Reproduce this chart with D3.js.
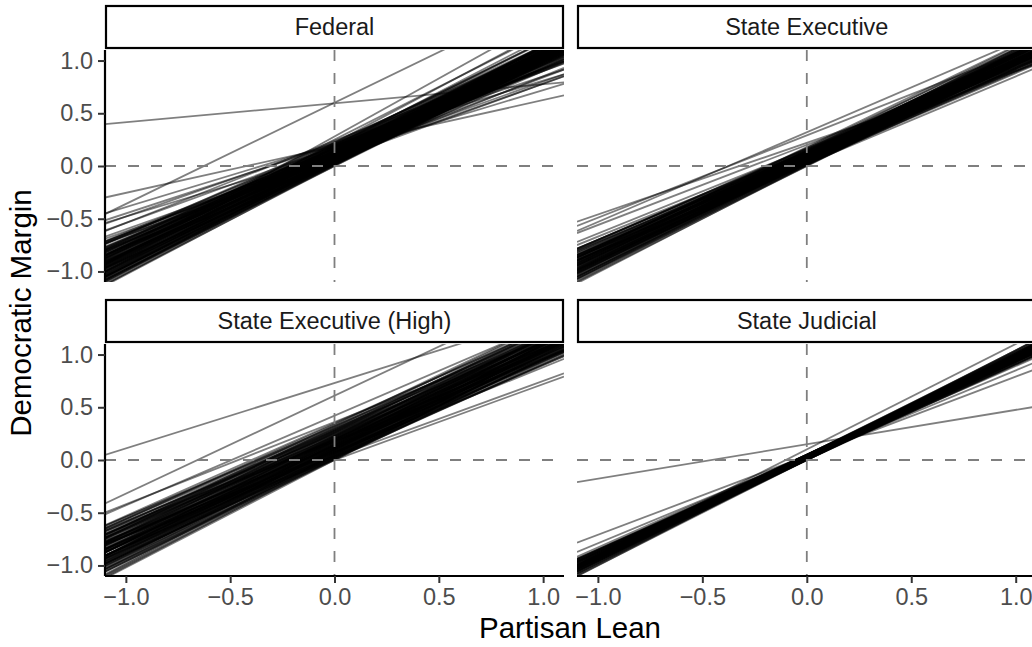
<!DOCTYPE html>
<html>
<head>
<meta charset="utf-8">
<script src="https://cdn.jsdelivr.net/npm/d3@7"></script>
<style>
  html, body { margin: 0; padding: 0; background: #fff; }
  svg { display: block; font-family: "Liberation Sans", Arial, Helvetica, sans-serif; }
</style>
</head>
<body>
<svg id="chart" width="1032" height="647"></svg>
<script>
// Facet titles
const facets = ["Federal", "State Executive", "State Executive (High)", "State Judicial"];

// Axis ticks (shared by every panel)
const xTicks = [-1.0, -0.5, 0.0, 0.5, 1.0];
const yTicks = [-1.0, -0.5, 0.0, 0.5, 1.0];
const xLimits = [-1.1, 1.1];
const yLimits = [-1.1, 1.1];

// Fitted lines per facet: intercept and slope (Democratic Margin = a + b * Partisan Lean)
const federalIntercept = [0.00, 0.02, 0.03, 0.05, 0.04, 0.06, 0.08, 0.07, 0.10, 0.09, 0.11, 0.12, 0.13, 0.10, 0.14, 0.15, 0.16, 0.18, 0.17, 0.20,
  0.01, 0.03, 0.06, 0.08, 0.05, 0.12, 0.14, 0.09, 0.02, 0.07, 0.11, 0.13, 0.16, 0.04, 0.19, 0.06, 0.10, 0.15, 0.08, 0.12,
  0.03, 0.05, 0.09, 0.14, 0.17, 0.01, 0.07, 0.11, 0.13, 0.04, 0.06, 0.08,
  0.00, 0.01, 0.02, 0.03, 0.04, 0.05, 0.06, 0.07, 0.08, 0.09, 0.10, 0.11, 0.12, 0.13, 0.14, 0.15, 0.16, 0.17, 0.18, 0.19,
  0.20, 0.21, 0.02, 0.03, 0.05, 0.06, 0.07, 0.08, 0.09, 0.10, 0.11, 0.12, 0.13, 0.14, 0.15, 0.16, 0.17, 0.18, 0.04, 0.01,
  0.06, 0.09, 0.11, 0.13, 0.07, 0.03, 0.05, 0.10, 0.12, 0.14,
  0.20, 0.22, 0.19, 0.23, 0.21, 0.18,
  0.22, 0.20, 0.18, 0.24, 0.25, 0.28, 0.22, 0.12, 0.10, 0.185, 0.595, 0.60, 0.21];
const federalSlope = [1.02, 1.00, 0.98, 1.03, 0.95, 0.97, 1.00, 0.92, 0.95, 0.88, 0.98, 0.90, 0.85, 0.82, 0.93, 0.88, 0.80, 0.86, 0.95, 0.90,
  0.96, 1.05, 0.90, 0.85, 0.80, 1.02, 0.78, 0.75, 0.90, 0.99, 0.87, 0.96, 0.91, 0.86, 0.82, 1.01, 0.91, 0.99, 0.94, 0.83,
  0.93, 0.88, 1.04, 0.86, 0.88, 1.00, 0.96, 0.93, 0.89, 0.99, 0.72, 0.70,
  0.98, 1.04, 0.95, 0.99, 1.02, 0.96, 0.93, 1.03, 0.97, 0.91, 1.00, 0.95, 0.88, 0.99, 0.90, 0.94, 0.86, 0.92, 0.95, 0.88,
  0.93, 0.86, 1.02, 0.91, 0.99, 0.87, 0.94, 1.02, 0.97, 0.87, 1.01, 0.94, 0.91, 0.97, 0.84, 0.96, 0.83, 0.91, 0.92, 0.98,
  1.05, 0.82, 0.80, 0.77, 0.88, 0.96, 1.05, 1.03, 0.97, 1.00,
  0.98, 0.92, 1.02, 0.88, 0.96, 1.00,
  0.70, 0.65, 0.72, 0.78, 1.00, 1.10, 1.05, 0.60, 0.70, 0.44, 0.18, 0.96, 0.60];

const stateExecIntercept = [0.00, 0.02, 0.03, 0.05, 0.04, 0.06, 0.08, 0.07, 0.09, 0.10, 0.11, 0.12, 0.13, 0.10, 0.14, 0.15, 0.16, 0.17, 0.02, 0.05,
  0.01, 0.03, 0.06, 0.08, 0.12, 0.14, 0.09, 0.04, 0.07, 0.11, 0.13, 0.16, 0.18, 0.06, 0.10, 0.15, 0.08, 0.12, 0.03, 0.05,
  0.09, 0.14, 0.01, 0.07, 0.11, 0.04, 0.02, 0.13,
  0.00, 0.01, 0.02, 0.03, 0.04, 0.05, 0.06, 0.07, 0.08, 0.09, 0.10, 0.11, 0.12, 0.13, 0.14, 0.15, 0.16, 0.17, 0.02, 0.03,
  0.04, 0.05, 0.06, 0.07, 0.08, 0.09, 0.10, 0.11, 0.12, 0.13, 0.01, 0.05, 0.08, 0.10, 0.06, 0.03, 0.14, 0.09, 0.04, 0.11,
  0.32, 0.29, 0.22, 0.20];
const stateExecSlope = [1.00, 0.98, 0.95, 1.00, 0.92, 0.96, 0.99, 0.90, 0.94, 0.88, 0.97, 0.92, 0.86, 0.84, 0.90, 0.85, 0.80, 0.88, 0.83, 0.86,
  0.96, 1.02, 0.89, 0.84, 0.99, 0.95, 0.81, 0.88, 0.97, 0.86, 0.93, 0.91, 0.96, 1.01, 0.91, 0.98, 0.93, 0.82, 0.90, 0.94,
  1.00, 0.87, 0.99, 0.85, 0.93, 0.97, 0.91, 0.80,
  0.97, 1.02, 0.94, 0.98, 1.01, 0.90, 0.93, 1.00, 0.88, 0.97, 0.95, 0.90, 0.95, 0.89, 0.84, 0.92, 0.86, 0.94, 0.88, 0.85,
  0.95, 0.97, 0.84, 0.92, 0.96, 0.87, 0.99, 0.83, 0.88, 0.97, 0.91, 1.02, 0.91, 0.86, 0.99, 0.93, 0.92, 0.90, 0.85, 1.00,
  0.85, 0.78, 0.68, 0.76];

const stateExecHighIntercept = [0.00, 0.02, 0.04, 0.05, 0.07, 0.08, 0.10, 0.11, 0.12, 0.14, 0.15, 0.16, 0.18, 0.19, 0.20, 0.22, 0.23, 0.25, 0.26, 0.28,
  0.30, 0.03, 0.06, 0.09, 0.13, 0.17, 0.01, 0.06, 0.10, 0.13, 0.17, 0.21, 0.24, 0.27, 0.08, 0.04, 0.15, 0.19, 0.12, 0.02,
  0.09, 0.22, 0.32, 0.18, 0.05, 0.11, 0.14, 0.20, 0.26, 0.07,
  0.00, 0.01, 0.03, 0.04, 0.06, 0.07, 0.08, 0.09, 0.10, 0.11, 0.12, 0.13, 0.14, 0.15, 0.16, 0.17, 0.18, 0.19, 0.20, 0.21,
  0.22, 0.23, 0.24, 0.25, 0.27, 0.28, 0.29, 0.02, 0.05, 0.08, 0.10, 0.12, 0.14, 0.16, 0.18, 0.20, 0.06, 0.03, 0.11, 0.15,
  0.23, 0.26, 0.09, 0.13, 0.17, 0.04, 0.19, 0.21, 0.07, 0.01,
  0.30, 0.32, 0.34, 0.31, 0.35, 0.28, 0.33, 0.29,
  0.00, 0.03, 0.36, 0.42, 0.73, 0.61];
const stateExecHighSlope = [1.02, 0.98, 1.00, 0.94, 0.97, 0.90, 0.95, 0.88, 1.00, 0.92, 0.86, 0.97, 0.90, 0.84, 0.95, 0.88, 0.93, 0.86, 0.98, 0.90,
  0.84, 0.92, 0.88, 0.85, 0.82, 0.80, 0.95, 1.04, 0.99, 0.96, 0.93, 0.90, 0.82, 0.95, 0.80, 0.86, 1.01, 0.97, 0.90, 0.89,
  0.93, 1.00, 0.88, 0.78, 0.99, 0.92, 0.85, 0.86, 0.90, 0.83,
  0.96, 1.01, 0.97, 0.93, 0.98, 0.91, 1.01, 0.96, 0.89, 0.97, 0.94, 0.88, 0.98, 0.91, 0.88, 0.95, 0.85, 0.92, 0.89, 0.96,
  0.84, 0.88, 0.93, 0.90, 0.86, 0.97, 0.88, 1.03, 0.90, 0.87, 0.93, 0.84, 0.95, 0.92, 0.99, 0.82, 0.94, 0.88, 1.02, 0.97,
  0.97, 0.84, 0.99, 0.91, 0.87, 1.03, 1.00, 0.93, 0.86, 0.92,
  0.92, 0.86, 0.90, 0.96, 0.88, 0.84, 0.95, 0.93,
  0.72, 0.72, 0.78, 0.85, 0.62, 0.93];

const stateJudIntercept = [0.00, 0.01, 0.02, 0.03, 0.04, 0.05, 0.01, 0.02, 0.03, 0.04, 0.05, 0.00, 0.01, 0.02, 0.03, 0.04, 0.05, 0.02, 0.03, 0.01,
  0.04, 0.00, 0.02, 0.03, 0.05, 0.01, 0.04, 0.03, 0.02, 0.00, 0.05, 0.01, 0.03, 0.04, 0.02,
  0.00, 0.01, 0.02, 0.03, 0.04, 0.05, 0.01, 0.02, 0.03, 0.04, 0.05, 0.00, 0.01, 0.02, 0.03, 0.04, 0.05, 0.02, 0.03, 0.01,
  0.04, 0.00, 0.02, 0.03, 0.05,
  0.04, 0.03, 0.149, 0.10];
const stateJudSlope = [0.98, 0.92, 0.96, 0.90, 0.94, 0.88, 1.00, 0.93, 0.97, 0.91, 0.95, 0.94, 0.89, 0.99, 0.93, 0.97, 0.92, 0.87, 1.01, 0.95,
  0.89, 0.91, 0.94, 0.88, 0.98, 0.97, 1.00, 0.95, 0.91, 0.96, 0.90, 0.93, 0.92, 0.96, 1.02,
  1.00, 0.94, 0.97, 0.91, 0.95, 0.93, 0.99, 0.92, 0.96, 0.90, 0.97, 0.93, 0.90, 0.98, 0.94, 0.98, 0.91, 0.89, 0.99, 0.96,
  0.92, 0.95, 0.95, 0.89, 0.96,
  0.75, 0.82, 0.326, 1.00];

const panelLines = [
  { intercept: federalIntercept, slope: federalSlope },
  { intercept: stateExecIntercept, slope: stateExecSlope },
  { intercept: stateExecHighIntercept, slope: stateExecHighSlope },
  { intercept: stateJudIntercept, slope: stateJudSlope }
];

// ---- layout ----
const svg = d3.select("#chart");
const colX = [[105, 564], [577, 1036.6]];
const rowY = [[50, 282], [344, 576]];
const stripH = 44;
const stripGap = 1;

const fmt = d => (d < 0 ? "\u2212" : "") + Math.abs(d).toFixed(1);

facets.forEach((name, i) => {
  const col = i % 2, row = Math.floor(i / 2);
  const [x0, x1] = colX[col];
  const [y0, y1] = rowY[row];
  const x = d3.scaleLinear().domain(xLimits).range([x0, x1]);
  const y = d3.scaleLinear().domain(yLimits).range([y1, y0]);

  const g = svg.append("g");
  const clipId = "clip" + i;
  svg.append("clipPath").attr("id", clipId)
    .append("rect").attr("x", x0).attr("y", y0).attr("width", x1 - x0).attr("height", y1 - y0);

  // fitted lines
  const data = panelLines[i].intercept.map((a, k) => ({ a, b: panelLines[i].slope[k] }));
  g.append("g").attr("clip-path", `url(#${clipId})`)
    .selectAll("line").data(data).join("line")
    .attr("x1", x(xLimits[0])).attr("x2", x(xLimits[1]))
    .attr("y1", d => y(d.a + d.b * xLimits[0]))
    .attr("y2", d => y(d.a + d.b * xLimits[1]))
    .attr("stroke", "#000").attr("stroke-opacity", 0.5)
    .attr("stroke-width", 1.8);

  // reference lines at zero
  const ref = g.append("g").attr("clip-path", `url(#${clipId})`)
    .attr("stroke", "#7f7f7f").attr("stroke-width", 1.8).attr("stroke-dasharray", "11,12");
  ref.append("line").attr("x1", x0).attr("x2", x1).attr("y1", y(0)).attr("y2", y(0));
  ref.append("line").attr("x1", x(0)).attr("x2", x(0)).attr("y1", y0).attr("y2", y1);

  // strip
  const sy = y0 - stripGap - stripH;
  g.append("rect").attr("x", x0 + 1).attr("y", sy + 1)
    .attr("width", x1 - x0 - 2).attr("height", stripH - 2)
    .attr("fill", "#fff").attr("stroke", "#000").attr("stroke-width", 2.2);
  g.append("text").attr("x", (x0 + x1) / 2).attr("y", sy + stripH / 2)
    .attr("dy", "0.35em").attr("text-anchor", "middle")
    .attr("fill", "#1a1a1a").attr("font-size", 23.5).text(name);

  // y axis on left column
  if (col === 0) {
    const ay = g.append("g").attr("transform", `translate(${x0},0)`)
      .call(d3.axisLeft(y).tickValues(yTicks).tickFormat(fmt).tickSize(7).tickPadding(5));
    ay.select(".domain").attr("stroke", "#000").attr("stroke-width", 2.2).attr("d", `M0,${y0}V${y1}`);
    ay.selectAll(".tick line").attr("stroke", "#333").attr("stroke-width", 2);
    ay.selectAll(".tick text").attr("fill", "#4d4d4d").attr("font-size", 23.5)
      .attr("font-family", "Liberation Sans, Arial, sans-serif");
  }
  // x axis on bottom row
  if (row === 1) {
    const ax = g.append("g").attr("transform", `translate(0,${y1})`)
      .call(d3.axisBottom(x).tickValues(xTicks).tickFormat(fmt).tickSize(7).tickPadding(5));
    ax.select(".domain").attr("stroke", "#000").attr("stroke-width", 2.2).attr("d", `M${x0},0H${x1}`);
    ax.selectAll(".tick line").attr("stroke", "#333").attr("stroke-width", 2);
    ax.selectAll(".tick text").attr("fill", "#4d4d4d").attr("font-size", 23.5)
      .attr("font-family", "Liberation Sans, Arial, sans-serif");
  }
});

// axis titles
svg.append("text").attr("x", 570).attr("y", 638).attr("text-anchor", "middle")
  .attr("font-size", 29.5).attr("fill", "#000").text("Partisan Lean");
svg.append("text").attr("transform", "translate(31,313) rotate(-90)").attr("text-anchor", "middle")
  .attr("font-size", 29.5).attr("fill", "#000").text("Democratic Margin");
</script>
</body>
</html>
